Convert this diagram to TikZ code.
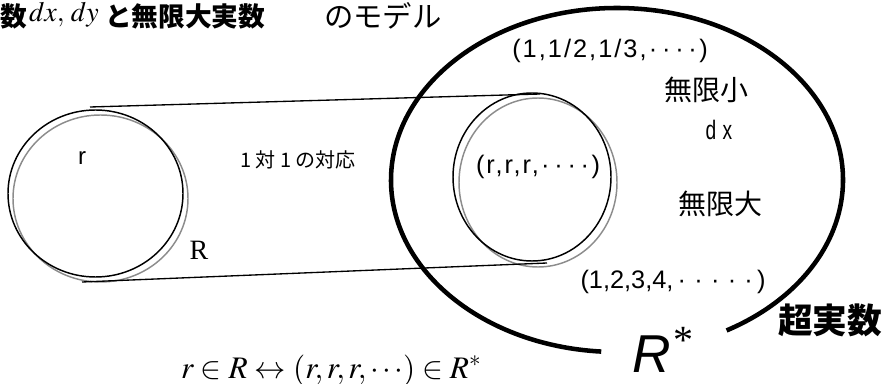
\documentclass[tikz,border=0pt]{standalone}
\usepackage{mathptmx}
\usepackage{fontspec}
\usepackage{graphicx}
\setmainfont{Liberation Serif}
\newfontfamily\cjk{Noto Sans CJK JP}
\newfontfamily\lsans{Liberation Sans}
\newfontfamily\tup[LetterSpace=8]{Liberation Sans}
\newcommand\md{\makebox[0.52em]{\textperiodcentered}}
\newcommand\mdw{\makebox[0.66em]{\textperiodcentered}}
\begin{document}
\begin{tikzpicture}[x=0.75pt,y=-0.75pt,
  thinc/.style={line width=1.1pt},
  grayc/.style={line width=1.1pt,black!45},
  bigc/.style={line width=3.4pt},
  txt/.style={inner sep=0pt,outer sep=0pt},
  jp/.style={txt,font=\cjk\fontsize{15}{15}\selectfont},
  jpbig/.style={txt,font=\cjk\fontsize{21}{21}\selectfont},
  tuple/.style={txt,font=\tup\fontsize{19}{19}\selectfont}]
\useasboundingbox (0,0) rectangle (891,384);

% big ellipse with a gap at the bottom
\draw[bigc] (617,180) ++(94:226 and 172) arc[start angle=94,end angle=421,x radius=226,y radius=172];

% left circle (R)
\draw[grayc] (100.5,198.5) ellipse[x radius=87.5,y radius=83.5];
\draw[thinc] (95.5,193.5) ellipse[x radius=87.5,y radius=83.5];

% small circle inside R*
\draw[grayc] (538,182.5) ellipse[x radius=79,y radius=84.5];
\draw[thinc] (532,177) ellipse[x radius=79,y radius=84];

% tangent lines
\coordinate (la) at (90,107);
\coordinate (lb) at (540,94);
\coordinate (lc) at (82,282);
\coordinate (ld) at (547,263);
\draw[line width=1pt] (la) -- (lb);
\draw[line width=1pt] (lc) -- (ld);

% title
\node[txt,anchor=west,font=\cjk\bfseries\fontsize{20}{20}\selectfont] (t1) at (0,16) {数};
\node[txt,anchor=west,font=\fontsize{21}{21}\selectfont] (t2) at (29,15) {$dx,\,dy$};
\node[txt,anchor=west,font=\cjk\bfseries\fontsize{20}{20}\selectfont] (t3) at (105,16) {と無限大実数};
\node[txt,anchor=west,font=\cjk\fontsize{22}{22}\selectfont] (t4) at (324,16) {のモデル};

% labels
\node[txt,font=\lsans\fontsize{18}{18}\selectfont] (r) at (82,158) {r};
\node[txt,font=\fontsize{21}{21}\selectfont] (R) at (199,250) {R};
\node[jp] (one) at (298,160) {1 対 1 の対応};
\node[tuple] (rrr) at (538,167) {(r,r,r,\md\md\md\md)};
\node[tuple] (inv) at (610,51) {(1,1/2,1/3,\md\md\md\md)};
\node[txt,font=\lsans\fontsize{19}{19}\selectfont] (nat) at (673,282) {(1,2,3,4,\mdw\mdw\mdw\mdw\mdw)};
\node[jpbig] (small) at (706,90) {無限小};
\node[txt,font=\lsans\fontsize{20}{20}\selectfont] (dx) at (719,130) {\scalebox{0.72}[1]{d\,\,x}};
\node[jpbig] (large) at (720,204) {無限大};
\node[txt,font=\cjk\bfseries\fontsize{26}{26}\selectfont] (hyper) at (830,320) {超実数};
\node[txt,anchor=base,font=\lsans\itshape\fontsize{40}{40}\selectfont] (Rs) at (652,372) {R};
\node[txt,font=\fontsize{30}{30}\selectfont] (star) at (683,340) {*};
\node[txt,anchor=base west,font=\fontsize{23.5}{23.5}\selectfont] (eq) at (181,378) {$r\in R\leftrightarrow(r,r,r,\cdots)\in R^{*}$};
\end{tikzpicture}
\end{document}
